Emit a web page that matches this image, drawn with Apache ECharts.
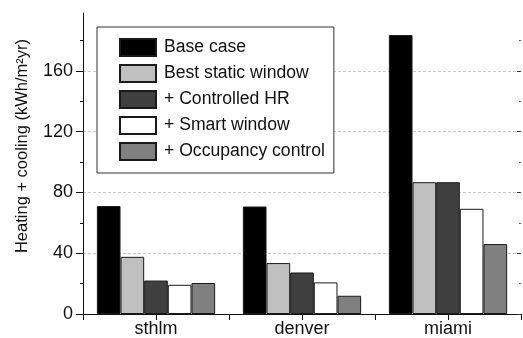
<!DOCTYPE html>
<html>
<head>
<meta charset="utf-8">
<script src="https://cdn.jsdelivr.net/npm/echarts@6/dist/echarts.min.js"></script>
<style>html,body{margin:0;padding:0;background:#fff}#c{width:523px;height:338px}</style>
</head>
<body>
<div id="c"></div>
<script>
const categories = ['sthlm', 'denver', 'miami'];
const seriesNames = ['Base case', 'Best static window', '+ Controlled HR', '+ Smart window', '+ Occupancy control'];
const baseCase = [71, 70.7, 183.5];
const bestStatic = [37.6, 33.5, 86.7];
const controlledHR = [22, 27.3, 86.7];
const smartWindow = [19.2, 20.8, 69.2];
const occupancy = [20.4, 12, 46];
const yTicks = [0, 40, 80, 120, 160];
const yAxisTitle = 'Heating + cooling (kWh/m²yr)';

const colors = ['#000000', '#c0c0c0', '#404040', '#ffffff', '#808080'];
const values = [baseCase, bestStatic, controlledHR, smartWindow, occupancy];
const FONT = 'Liberation Sans, Arial, sans-serif';

const chart = echarts.init(document.getElementById('c'), null, {renderer: 'canvas'});
chart.setOption({
  animation: false,
  backgroundColor: '#fff',
  textStyle: {fontFamily: FONT},
  grid: {left: 83, right: 2, top: 13, bottom: 24, containLabel: false},
  legend: {
    orient: 'vertical',
    left: 97, top: 27,
    padding: [11, 9, 12, 22],
    icon: 'rect',
    itemWidth: 36, itemHeight: 17, itemGap: 7,
    borderColor: '#333', borderWidth: 1, backgroundColor: '#fff',
    textStyle: {fontFamily: FONT, fontSize: 17.6, color: '#111', padding: [0, 0, 0, 3]},
    data: seriesNames
  },
  xAxis: [
    {
      type: 'category', data: categories, position: 'bottom',
      axisLine: {lineStyle: {color: '#111', width: 1}},
      axisTick: {show: true, inside: false, length: 4, lineStyle: {color: '#111'}},
      axisLabel: {fontFamily: FONT, fontSize: 18, color: '#111', margin: 6},
      splitLine: {show: false}
    },
    {
      type: 'value', position: 'top', min: 0, max: 3, interval: 0.5,
      axisLine: {show: true, lineStyle: {color: '#111', width: 1}},
      axisTick: {show: true, inside: true, length: 6, lineStyle: {color: '#111'}},
      axisLabel: {show: false},
      splitLine: {show: false}
    }
  ],
  yAxis: [
    {
      type: 'value', position: 'left', min: 0, max: 198, interval: 40,
      name: yAxisTitle, nameLocation: 'middle', nameGap: 52,
      nameTextStyle: {fontFamily: FONT, fontSize: 16.5, color: '#111', padding: [0, 0, 0, 35]},
      axisLine: {show: true, lineStyle: {color: '#111', width: 1}},
      axisTick: {show: true, inside: false, length: 7, lineStyle: {color: '#111'}, customValues: yTicks},
      minorTick: {show: true, splitNumber: 2, length: 3, lineStyle: {color: '#111'}},
      axisLabel: {fontFamily: FONT, fontSize: 18, color: '#111', margin: 10, customValues: yTicks},
      splitLine: {show: true, lineStyle: {color: '#c8c8c8', type: [3, 2], width: 1}}
    },
    {
      type: 'value', position: 'right', min: 0, max: 198, interval: 40,
      axisLine: {show: false},
      axisTick: {show: true, inside: true, length: 4, lineStyle: {color: '#333'}, customValues: yTicks},
      minorTick: {show: true, splitNumber: 2, length: 2, lineStyle: {color: '#555'}},
      axisLabel: {show: false},
      splitLine: {show: false}
    }
  ],
  series: seriesNames.map((n, i) => ({
    name: n, type: 'bar', xAxisIndex: 0, yAxisIndex: 0,
    data: values[i],
    barGap: '0%', barCategoryGap: '19%',
    itemStyle: {color: colors[i], borderColor: '#1a1a1a', borderWidth: 1}
  }))
});
</script>
</body>
</html>
